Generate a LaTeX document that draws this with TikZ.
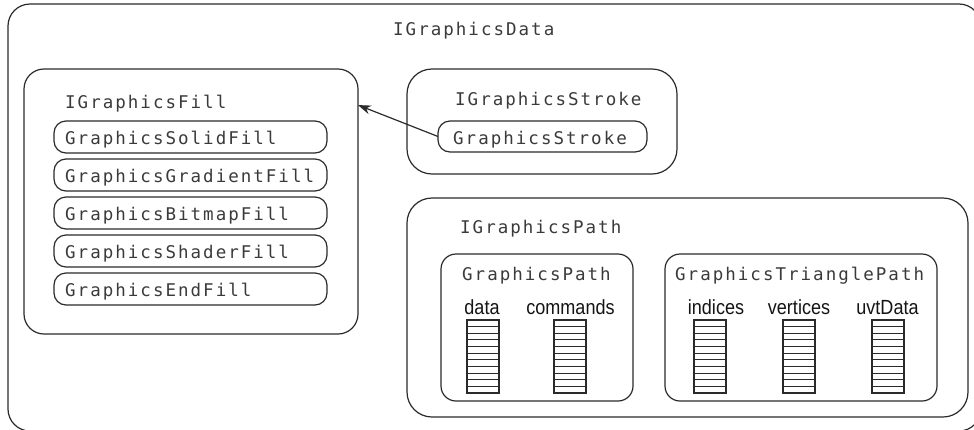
\documentclass[tikz,border=0pt]{standalone}
\usepackage{fontspec}
\usetikzlibrary{arrows.meta}
\newfontfamily\monof[LetterSpace=11.5]{DejaVu Sans Mono}
\newfontfamily\labf[FakeStretch=0.88]{Liberation Sans}
\definecolor{linec}{HTML}{2A2A2A}
\definecolor{textc}{HTML}{3A3A3A}
\newcommand\mystack[2]{%
  \node[stackbox, anchor=north west] (#1) at (#2,320) {};
  \foreach \i in {1,...,10}{\draw[line width=1.1pt, draw=linec] ([yshift=-\i*6.636pt]#1.north west) -- ([yshift=-\i*6.636pt]#1.north east);}
}
\begin{document}
\begin{tikzpicture}[x=1pt,y=-1pt,
  box/.style={draw=linec, line width=1.2pt, rounded corners=#1, inner sep=0pt, outer sep=0pt, anchor=north west},
  mtext/.style={font=\monof\fontsize{17.5}{20}\selectfont, text=textc, inner sep=0pt, anchor=base west},
  ltext/.style={font=\labf\fontsize{20.5}{22}\selectfont, text=black!92, inner sep=0pt, anchor=base},
  stackbox/.style={draw=linec, line width=1.3pt, minimum width=32pt, minimum height=73pt, inner sep=0pt, outer sep=0pt}
]
\useasboundingbox (0,0) rectangle (974,429);
\clip (0,0) rectangle (974,429);
% outer
\node[box=22pt, minimum width=973pt, minimum height=427pt] (outer) at (8,4) {};
\node[mtext] (tdata) at (393,35) {IGraphicsData};
% fill
\node[box=20pt, minimum width=334pt, minimum height=265pt] (fill) at (24,69) {};
\node[mtext] (tfill) at (65,108) {IGraphicsFill};
\foreach \n/\t/\y in {solid/GraphicsSolidFill/121, grad/GraphicsGradientFill/159, bitmap/GraphicsBitmapFill/197, shader/GraphicsShaderFill/235, endf/GraphicsEndFill/273}{
  \node[box=12pt, minimum width=273pt, minimum height=32pt] (\n) at (54,\y) {};
  \node[mtext] (t\n) at (65,\y+23) {\t};
}
% stroke
\node[box=25pt, minimum width=270pt, minimum height=105pt] (stroke) at (407,69) {};
\node[mtext] (tstroke) at (455,105) {IGraphicsStroke};
\node[box=12pt, minimum width=209pt, minimum height=31pt] (spill) at (438,121) {};
\node[mtext] (tspill) at (453,144) {GraphicsStroke};
\draw[draw=linec, line width=1.2pt, -{Stealth[length=13pt,width=9pt]}] (spill.west) -- (fill.30);
% path
\node[box=25pt, minimum width=561pt, minimum height=219pt] (path) at (407,198) {};
\node[mtext] (tpath) at (460,233) {IGraphicsPath};
\node[box=15pt, minimum width=192pt, minimum height=147pt] (gpath) at (441,254) {};
\node[mtext] (tgpath) at (462,280) {GraphicsPath};
\node[box=15pt, minimum width=272pt, minimum height=147pt] (gtri) at (665,254) {};
\node[mtext] (tgtri) at (675,280) {GraphicsTrianglePath};
% labels
\node[ltext] (ldata) at (482,314) {data};
\node[ltext] (lcmd) at (570.5,314) {commands};
\node[ltext] (lind) at (716,314) {indices};
\node[ltext] (lver) at (799,314) {vertices};
\node[ltext] (luvt) at (887.5,314) {uvtData};
% stacks
\mystack{sdata}{467}
\mystack{scmd}{554}
\mystack{sind}{694}
\mystack{sver}{783}
\mystack{suvt}{872}
\end{tikzpicture}
\end{document}
